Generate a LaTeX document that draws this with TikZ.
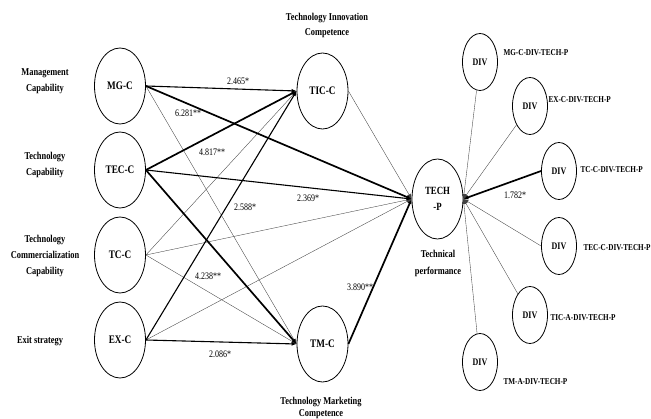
\documentclass[tikz,border=0pt]{standalone}
\usepackage{fontspec}
\setmainfont[FakeStretch=0.8]{Liberation Serif}
\usetikzlibrary{shapes.geometric,arrows.meta}
\tikzset{
  latent/.style={draw, ellipse, line width=0.8pt, inner sep=0pt, minimum width=51pt, minimum height=76pt, font=\fontsize{11.5}{13}\selectfont\bfseries},
  divnode/.style={draw, ellipse, line width=0.8pt, inner sep=0pt, minimum width=35pt, minimum height=57pt, font=\fontsize{10}{12}\selectfont\bfseries},
  lbl/.style={align=center, font=\fontsize{10.5}{16}\selectfont\bfseries},
  dlbl/.style={anchor=west, font=\fontsize{9}{10}\selectfont\bfseries},
  num/.style={font=\fontsize{10}{12}\selectfont, inner sep=0pt},
  thin/.style={line width=0.35pt, draw=black!75},
  med/.style={line width=1.1pt},
  thick2/.style={line width=1.7pt},
  arr/.style={-{Latex[length=5pt,width=4pt]}},
}
\begin{document}
\begin{tikzpicture}[x=1pt,y=-1pt]
\useasboundingbox (0,0) rectangle (651,419);
% left nodes
\node[latent] (MG) at (120,86) {MG-C};
\node[latent] (TEC) at (120,170) {TEC-C};
\node[latent] (TC) at (120,255) {TC-C};
\node[latent] (EX) at (120,340) {EX-C};
\node[latent] (TIC) at (322.5,91) {TIC-C};
\node[latent] (TM) at (322.5,344) {TM-C};
\node[latent, minimum width=51pt, minimum height=80pt, align=center, font=\fontsize{11}{16}\selectfont\bfseries] (TP) at (437.5,199) {TECH\\-P};
% DIV nodes
\node[divnode] (D1) at (480,62) {DIV};
\node[divnode] (D2) at (530,106) {DIV};
\node[divnode] (D3) at (559,171) {DIV};
\node[divnode] (D4) at (559,246) {DIV};
\node[divnode] (D5) at (530,315) {DIV};
\node[divnode] (D6) at (480,362) {DIV};
% left labels
\node[lbl] (lMG) at (45,81) {Management\\Capability};
\node[lbl] (lTEC) at (45,165) {Technology\\Capability};
\node[lbl] (lTC) at (45,256) {Technology\\Commercialization\\Capability};
\node[lbl] (lEX) at (40,341) {Exit strategy};
\node[lbl, font=\fontsize{10.5}{15}\selectfont\bfseries] (lTIC) at (327,25) {Technology Innovation\\Competence};
\node[lbl, font=\fontsize{10.5}{12}\selectfont\bfseries, inner sep=0pt] (lTM) at (321,407.5) {Technology Marketing\\Competence};
\node[lbl, font=\fontsize{10.5}{17}\selectfont\bfseries] (lTP) at (438,263) {Technical\\performance};
% DIV labels
\node[dlbl] (l1) at (500,53) {MG-C-DIV-TECH-P};
\node[dlbl] (l2) at (545,100) {EX-C-DIV-TECH-P};
\node[dlbl] (l3) at (577,170) {TC-C-DIV-TECH-P};
\node[dlbl] (l4) at (580,248) {TEC-C-DIV-TECH-P};
\node[dlbl] (l5) at (547,318) {TIC-A-DIV-TECH-P};
\node[dlbl] (l6) at (500,382) {TM-A-DIV-TECH-P};
% thin lines
\draw[thin, arr] (MG.east) -- (TM.west);
\draw[thin, arr] (TC.east) -- (TIC.west);
\draw[thin, arr] (TC.east) -- (TP.west);
\draw[thin, arr] (TC.east) -- (TM.west);
\draw[thin, arr] (EX.east) -- (TP.west);
\draw[thin, arr] (TIC.east) -- (TP.west);
% medium lines
\draw[med, arr] (MG.east) -- (TIC.west);
\draw[med, arr] (TEC.east) -- (TP.west);
\draw[med, arr] (EX.east) -- (TIC.west);
\draw[med, arr] (EX.east) -- (TM.west);
% thick lines
\draw[thick2, arr] (MG.east) -- (TP.west);
\draw[thick2, arr] (TEC.east) -- (TIC.west);
\draw[thick2, arr] (TEC.east) -- (TM.west);
\draw[thick2, arr] (TM.east) -- (TP.west);
% DIV lines
\draw[thin, arr] (D1) -- (TP.east);
\draw[thin, arr] (D2) -- (TP.east);
\draw[thick2, arr] (D3.west) -- (TP.east);
\draw[thin, arr] (D4.west) -- (TP.east);
\draw[thin, arr] (D5) -- (TP.east);
\draw[thin, arr] (D6) -- (TP.east);
% numbers
\node[num] (n1) at (238,81) {2.465*};
\node[num] (n2) at (188,113) {6.281**};
\node[num] (n3) at (212,152) {4.817**};
\node[num] (n4) at (245,207) {2.588*};
\node[num] (n5) at (308,198) {2.369*};
\node[num] (n6) at (208,276) {4.238**};
\node[num] (n7) at (220,354) {2.086*};
\node[num] (n8) at (360,287) {3.890**};
\node[num] (n9) at (515,195) {1.782*};
\end{tikzpicture}
\end{document}
